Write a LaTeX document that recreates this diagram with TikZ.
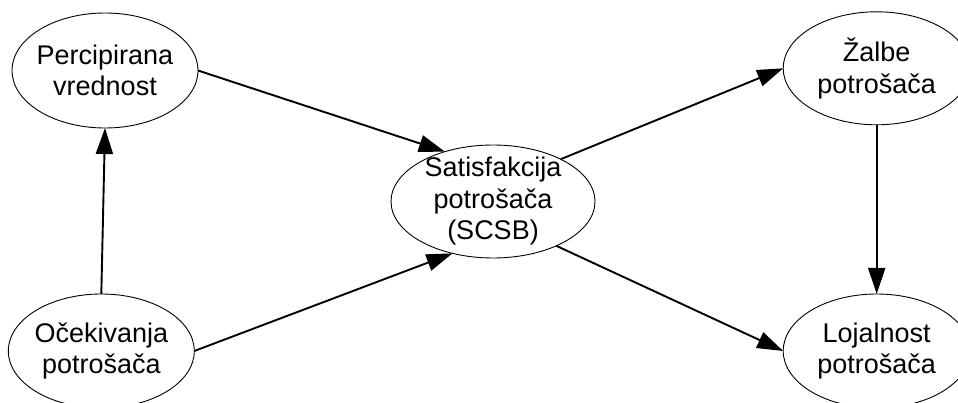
\documentclass[tikz,border=0pt]{standalone}
\usepackage{fontspec}
\setmainfont{Liberation Sans}
\usetikzlibrary{arrows.meta,shapes.geometric}
\begin{document}
\begin{tikzpicture}[x=1pt,y=-1pt,
  oval/.style={ellipse, draw, line width=0.9pt, inner sep=0pt, outer sep=0pt},
  label/.style={inner sep=0pt, align=center, font=\fontsize{27}{31.5}\selectfont},
  link/.style={line width=1.9pt, -{Triangle[length=26pt,width=17pt]}}]
\useasboundingbox (0,0) rectangle (958,403);
\clip (0,0) rectangle (958,403);
\fill[white] (0,0) rectangle (958,403);
% ellipses
\node[oval, minimum width=186pt, minimum height=115pt] (perc) at (105,70.5) {};
\node[oval, minimum width=186pt, minimum height=114pt] (ocek) at (101.3,351) {};
\node[oval, minimum width=204pt, minimum height=113pt] (sat) at (493,201.5) {};
\node[oval, minimum width=187pt, minimum height=113pt] (zal) at (876.7,68.3) {};
\node[oval, minimum width=187pt, minimum height=114pt] (loj) at (876.7,351) {};
% texts
\node[label] (perc-t) at (perc.center) {Percipirana\\vrednost};
\node[label] (ocek-t) at (ocek.center) {Očekivanja\\potrošača};
\node[label] (sat-t) at (sat.center) {Satisfakcija\\potrošača\\(SCSB)};
\node[label] (zal-t) at (zal.center) {Žalbe\\potrošača};
\node[label] (loj-t) at (loj.center) {Lojalnost\\potrošača};
% connectors
\draw[link] (perc.east) -- (sat.134);
\draw[link] (ocek.north) -- (perc.south);
\draw[link] (ocek.east) -- (sat.232);
\draw[link] (sat.32) -- (zal.west);
\draw[link] (sat.325) -- (loj.west);
\draw[link] (zal.south) -- (loj.north);
\end{tikzpicture}
\end{document}
